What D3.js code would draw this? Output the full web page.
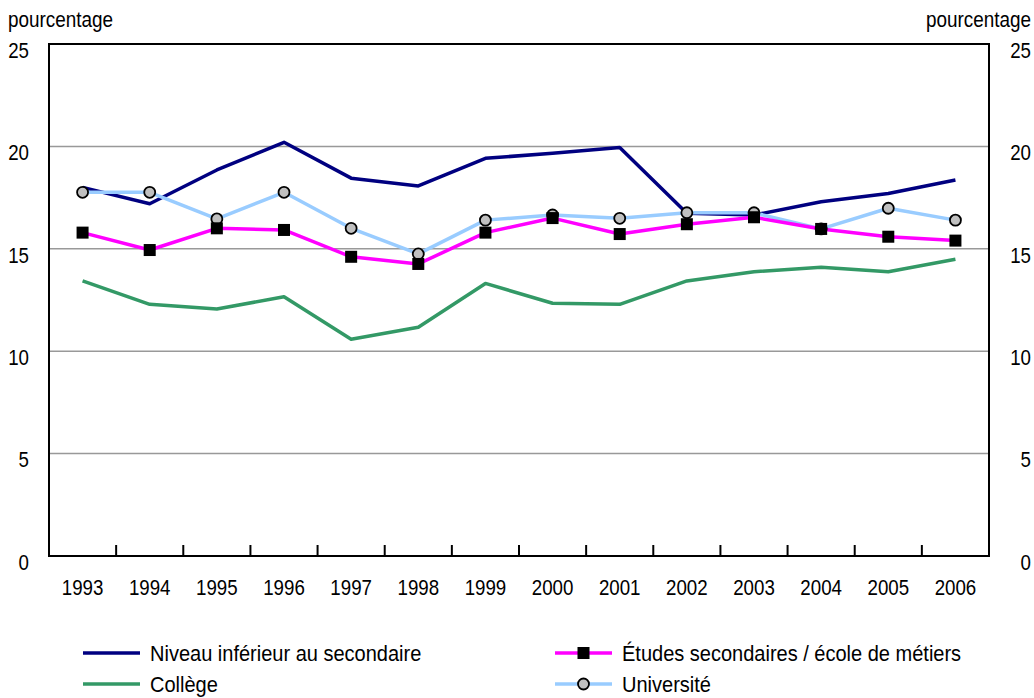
<!DOCTYPE html>
<html lang="fr">
<head>
  <meta charset="UTF-8">
  <title>pourcentage</title>
  <script src="https://d3js.org/d3.v7.min.js"></script>
  <style>
    body { margin: 0; background: #fff; }
    text { font-family: "Liberation Sans", Arial, sans-serif; font-size: 22px; fill: #000; }
  </style>
</head>
<body>
  <svg id="chart" width="1034" height="698"></svg>
  <script>
    // Data
    const years = ["1993","1994","1995","1996","1997","1998","1999","2000","2001","2002","2003","2004","2005","2006"];
    const niveauInf = [18.0, 17.2, 18.85, 20.2, 18.45, 18.07, 19.42, 19.66, 19.95, 16.73, 16.65, 17.3, 17.7, 18.36];
    const etudesSec = [15.79, 14.94, 16.0, 15.92, 14.61, 14.26, 15.79, 16.5, 15.72, 16.2, 16.54, 15.97, 15.59, 15.4];
    const college = [13.43, 12.29, 12.06, 12.66, 10.58, 11.17, 13.31, 12.34, 12.29, 13.43, 13.88, 14.1, 13.88, 14.49];
    const universite = [17.76, 17.76, 16.46, 17.76, 16.0, 14.75, 16.4, 16.65, 16.49, 16.76, 16.76, 15.97, 16.98, 16.4];
    const yTicks = [0, 5, 10, 15, 20, 25];

    const series = [
      {name: "Niveau inférieur au secondaire", values: niveauInf, color: "#000080", marker: null},
      {name: "Collège", values: college, color: "#339966", marker: null},
      {name: "Université", values: universite, color: "#99CCFF", marker: "circle"},
      {name: "Études secondaires / école de métiers", values: etudesSec, color: "#FF00FF", marker: "square"}
    ];

    const svg = d3.select("#chart");
    const plot = {left: 49, right: 989, top: 44, bottom: 556};

    const x = d3.scaleBand().domain(years).range([plot.left, plot.right]);
    const y = d3.scaleLinear().domain([0, 25]).range([plot.bottom, plot.top]);
    const cx = d => x(d) + x.bandwidth() / 2;

    // condensed-looking text: horizontally squeezed
    function label(px, py, str, anchor, sx) {
      svg.append("g")
        .attr("transform", `translate(${px},${py}) scale(${sx},1)`)
        .append("text")
        .attr("text-anchor", anchor || "start")
        .attr("dy", "0.35em")
        .text(str);
    }

    // Gridlines
    svg.append("g")
      .selectAll("line")
      .data(yTicks.filter(d => d > 0 && d < 25))
      .enter().append("line")
      .attr("x1", plot.left).attr("x2", plot.right)
      .attr("y1", d => y(d)).attr("y2", d => y(d))
      .attr("stroke", "#999").attr("stroke-width", 1.5);

    // Left & right axis labels (sit a little below their gridline)
    yTicks.forEach(d => {
      label(29, y(d) + 6, d, "end", 0.85);
      label(1031, y(d) + 6, d, "end", 0.85);
    });

    label(8, 19, "pourcentage", "start", 0.86);
    label(1031, 19, "pourcentage", "end", 0.86);

    // Year ticks (between categories, pointing up)
    svg.append("g")
      .selectAll("line")
      .data(years.slice(1))
      .enter().append("line")
      .attr("x1", d => x(d)).attr("x2", d => x(d))
      .attr("y1", plot.bottom).attr("y2", plot.bottom - 11)
      .attr("stroke", "#000").attr("stroke-width", 2);

    years.forEach(d => label(cx(d), 587, d, "middle", 0.85));

    // Lines
    const line = d3.line()
      .x((d, i) => cx(years[i]))
      .y(d => y(d));

    series.forEach(s => {
      svg.append("path")
        .datum(s.values)
        .attr("fill", "none")
        .attr("stroke", s.color)
        .attr("stroke-width", 3.5)
        .attr("stroke-linejoin", "round")
        .attr("d", line);
    });

    // Markers
    series.forEach(s => {
      if (s.marker === "square") {
        svg.append("g").selectAll("rect")
          .data(s.values).enter().append("rect")
          .attr("x", (d, i) => cx(years[i]) - 6)
          .attr("y", d => y(d) - 6)
          .attr("width", 12).attr("height", 12)
          .attr("fill", "#000");
      } else if (s.marker === "circle") {
        svg.append("g").selectAll("circle")
          .data(s.values).enter().append("circle")
          .attr("cx", (d, i) => cx(years[i]))
          .attr("cy", d => y(d))
          .attr("r", 5.5)
          .attr("fill", "#C0C0C0")
          .attr("stroke", "#000").attr("stroke-width", 1.8);
      }
    });

    // Frame
    svg.append("rect")
      .attr("x", plot.left).attr("y", plot.top)
      .attr("width", plot.right - plot.left).attr("height", plot.bottom - plot.top)
      .attr("fill", "none").attr("stroke", "#000").attr("stroke-width", 2);

    // Legend
    const legendItems = [
      {s: series[0], lx: 83, ly: 653},
      {s: series[3], lx: 555, ly: 653},
      {s: series[1], lx: 83, ly: 684},
      {s: series[2], lx: 555, ly: 684}
    ];
    legendItems.forEach(item => {
      const g = svg.append("g");
      g.append("line")
        .attr("x1", item.lx).attr("x2", item.lx + 57)
        .attr("y1", item.ly).attr("y2", item.ly)
        .attr("stroke", item.s.color).attr("stroke-width", 3.5);
      const mx = item.lx + 28.5;
      if (item.s.marker === "square") {
        g.append("rect").attr("x", mx - 6).attr("y", item.ly - 6)
          .attr("width", 12).attr("height", 12).attr("fill", "#000");
      } else if (item.s.marker === "circle") {
        g.append("circle").attr("cx", mx).attr("cy", item.ly).attr("r", 5.5)
          .attr("fill", "#C0C0C0").attr("stroke", "#000").attr("stroke-width", 1.8);
      }
      label(item.lx + 67, item.ly, item.s.name, "start", 0.91);
    });
  </script>
</body>
</html>
